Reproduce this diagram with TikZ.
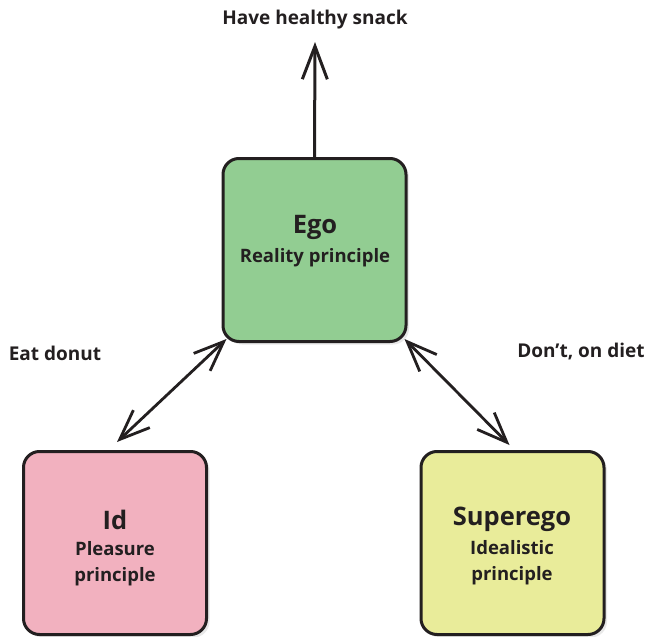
\documentclass[tikz,border=0pt]{standalone}
\usepackage{fontspec}
\setmainfont{Open Sans}
\usetikzlibrary{arrows.meta,shadows}
\definecolor{egofill}{HTML}{92CD92}
\definecolor{idfill}{HTML}{F2B1BF}
\definecolor{superfill}{HTML}{E9EC9A}
\definecolor{ink}{HTML}{231F20}
\tikzset{
  psyche/.style={draw=ink, line width=3pt, rounded corners=16pt,
    minimum width=183pt, minimum height=183pt, inner sep=0pt,
    drop shadow={shadow xshift=3pt, shadow yshift=-3pt, opacity=0.18}},
  title/.style={font=\bfseries\fontsize{25.5}{30}\selectfont, text=ink},
  sub/.style={font=\bfseries\fontsize{18.5}{26}\selectfont, text=ink, align=center},
  lbl/.style={font=\bfseries\fontsize{19}{22}\selectfont, text=ink},
  barb/.tip={Straight Barb[length=30pt,width=24pt,line width=2.8pt]},
  link/.style={draw=ink, line width=2.8pt, barb-barb},
  uplink/.style={draw=ink, line width=3pt,
    -{Straight Barb[length=33pt,width=25pt,line width=3pt]}}
}
\begin{document}
\begin{tikzpicture}[x=1pt,y=-1pt]
  \useasboundingbox (0,0) rectangle (646,637);
  % the three boxes
  \node[psyche, fill=egofill] (ego) at (314.5,250) {};
  \node[psyche, fill=idfill] (id) at (115,543) {};
  \node[psyche, fill=superfill] (superego) at (512.5,543) {};
  % their texts
  \node[title] (egot) at (315,227) {Ego};
  \node[sub] (egos) at (315,258) {Reality principle};
  \node[title] (idt) at (115,520) {Id};
  \node[sub] (ids) at (115,564) {Pleasure\\principle};
  \node[title] (supt) at (512,519) {Superego};
  \node[sub] (sups) at (512,563) {Idealistic\\principle};
  % labels
  \node[lbl] (goal) at (315,20) {Have healthy snack};
  \node[lbl] (idlbl) at (55,353) {Eat donut};
  \node[lbl] (suplbl) at (581,352) {Don’t, on diet};
  % anchor points of the two-way connectors
  \path (ego.south west) ++(5,-4) coordinate (egol)
        (id.north) ++(2,-8) coordinate (idn)
        (ego.south east) ++(-3,-4) coordinate (egor)
        (superego.north) ++(-3,-5) coordinate (supn);
  \coordinate (top) at (315,42);
  % connectors
  \draw[uplink] (ego.north) -- (top);
  \draw[link] (egol) -- (idn);
  \draw[link] (egor) -- (supn);
\end{tikzpicture}
\end{document}
